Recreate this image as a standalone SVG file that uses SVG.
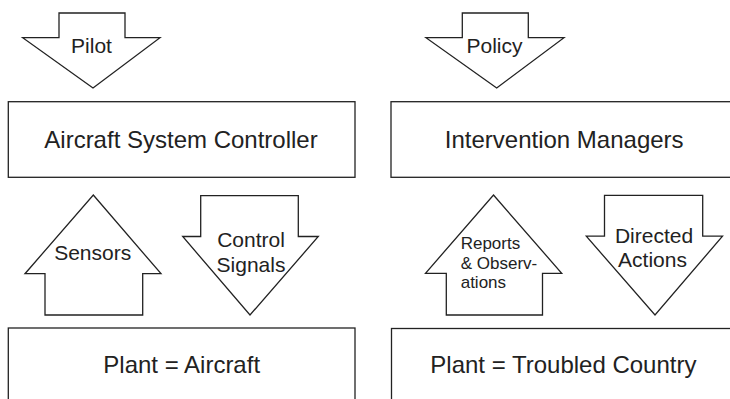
<svg xmlns="http://www.w3.org/2000/svg" width="730" height="399" viewBox="0 0 730 399">
  <style>
    .shape { fill: #ffffff; stroke: #222222; stroke-width: 1.3; stroke-linejoin: miter; }
    .label { font-family: "Liberation Sans", Arial, sans-serif; fill: #222222; }
    .big { font-size: 24px; text-anchor: middle; }
    .mid { font-size: 21px; text-anchor: middle; }
    .small { font-size: 17px; }
  </style>
  <rect width="730" height="399" fill="#ffffff"/>

  <!-- Left column: aircraft control loop -->
  <g id="pilot-arrow">
    <polygon class="shape" points="59,13 125,13 125,37.7 160,37.7 93,88 22.7,37.7 59,37.7"/>
    <text class="label mid" x="91.5" y="53.3">Pilot</text>
  </g>
  <g id="aircraft-controller">
    <rect class="shape" x="8.3" y="101.7" width="346.7" height="75.6"/>
    <text class="label big" x="181" y="148.3">Aircraft System Controller</text>
  </g>
  <g id="sensors-arrow">
    <polygon class="shape" points="93.3,195 161,273.7 142.7,273.7 142.7,315 45,315 45,273.7 25,273.7"/>
    <text class="label mid" x="92.7" y="260">Sensors</text>
  </g>
  <g id="control-signals-arrow">
    <polygon class="shape" points="200.7,195.7 298.3,195.7 298.3,236.5 318.3,236.5 250,315 182.7,236.5 200.7,236.5"/>
    <text class="label mid" x="251" y="246.7">Control</text>
    <text class="label mid" x="251" y="271.7">Signals</text>
  </g>
  <g id="plant-aircraft">
    <rect class="shape" x="8.3" y="328" width="346.7" height="90"/>
    <text class="label big" x="181.7" y="372.7">Plant = Aircraft</text>
  </g>

  <!-- Right column: intervention loop -->
  <g id="policy-arrow">
    <polygon class="shape" points="462.3,13 528.3,13 528.3,37.7 564,37.7 496.7,88 426,37.7 462.3,37.7"/>
    <text class="label mid" x="494.5" y="53.3">Policy</text>
  </g>
  <g id="intervention-managers">
    <rect class="shape" x="391" y="101.7" width="346" height="75.6"/>
    <text class="label big" x="564.2" y="148.3">Intervention Managers</text>
  </g>
  <g id="reports-arrow">
    <polygon class="shape" points="493.5,195 561.7,273.3 542.5,273.3 542.5,315 446.3,315 446.3,273.3 425.5,273.3"/>
    <text class="label small" x="460.7" y="249.3">Reports</text>
    <text class="label small" x="460.7" y="268.5">&amp; Observ-</text>
    <text class="label small" x="460.7" y="288.3">ations</text>
  </g>
  <g id="directed-actions-arrow">
    <polygon class="shape" points="604.5,195.3 702.7,195.3 702.7,236.2 722.5,236.2 655,315 586.3,236.2 604.5,236.2"/>
    <text class="label mid" x="654" y="243.3">Directed</text>
    <text class="label mid" x="652.5" y="267.3">Actions</text>
  </g>
  <g id="plant-country">
    <rect class="shape" x="391.5" y="328.5" width="346" height="90"/>
    <text class="label big" x="563.4" y="372.7">Plant = Troubled Country</text>
  </g>

  <!-- The block arrows above act as the connectors between the boxes -->
  <g id="connectors"/>
</svg>
